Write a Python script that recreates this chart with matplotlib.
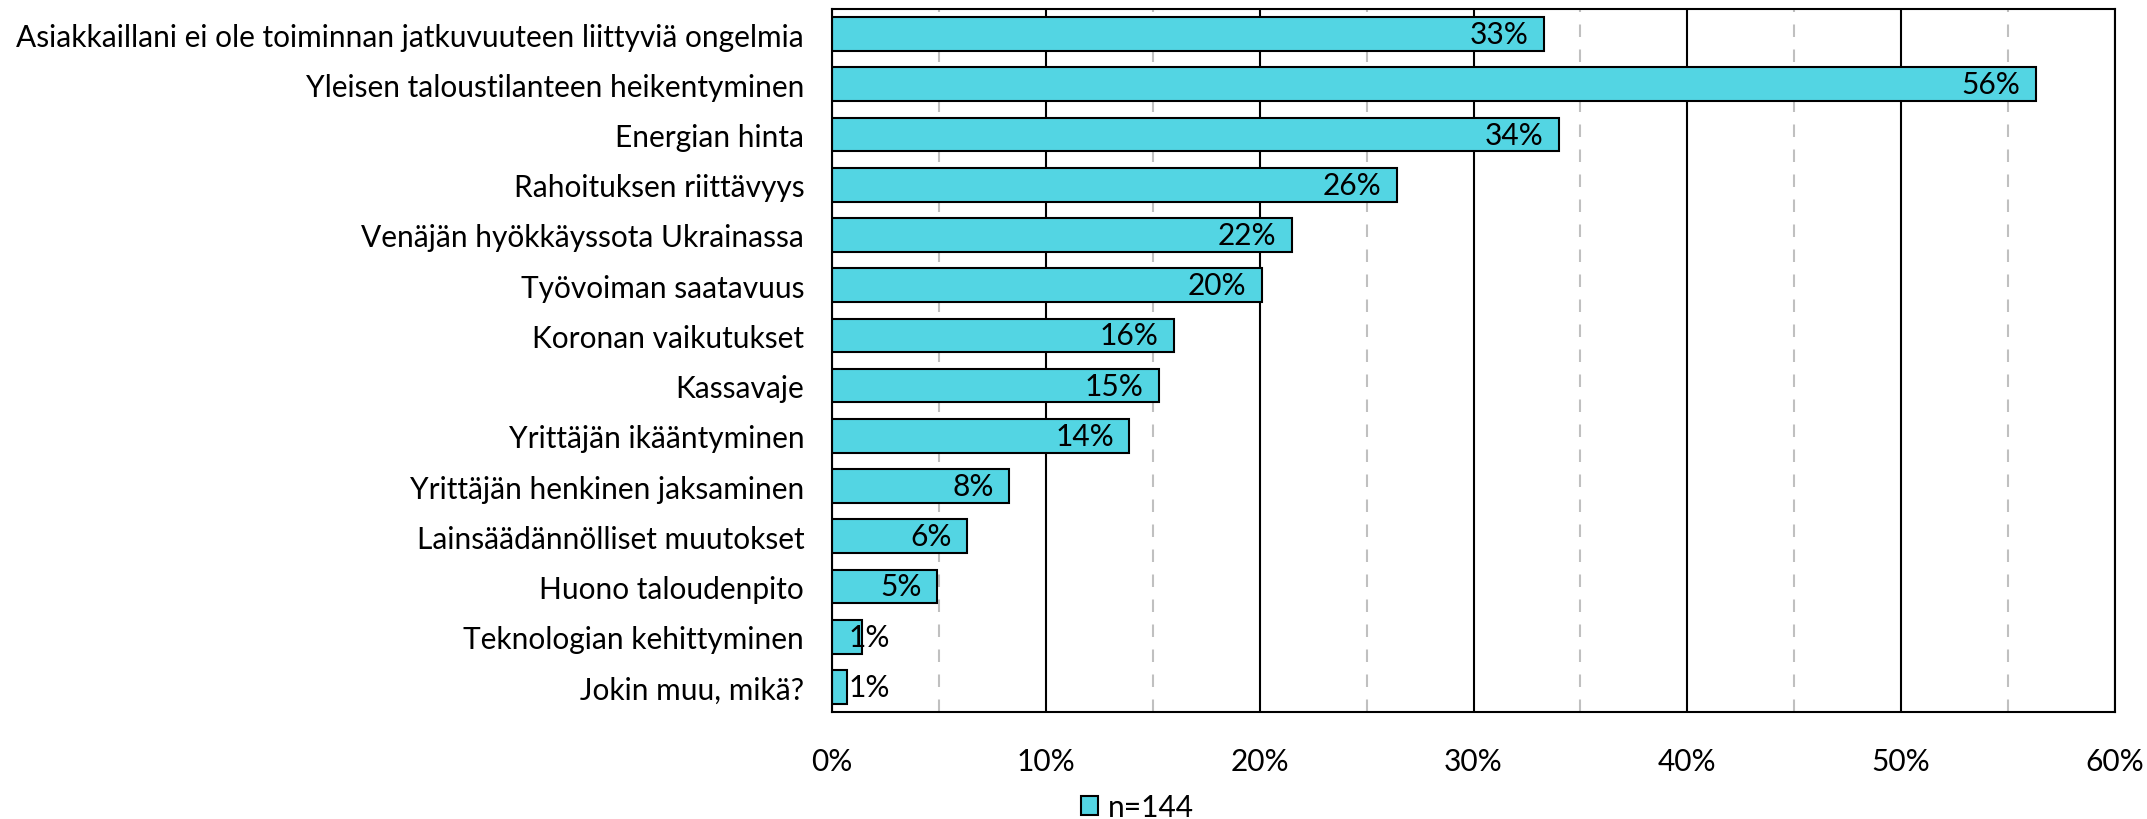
import matplotlib
matplotlib.use("Agg")
import matplotlib.pyplot as plt
from matplotlib.ticker import MultipleLocator, FuncFormatter
from matplotlib.patches import Patch

plt.rcParams['font.family'] = ['Lato', 'DejaVu Sans']

categories = [
    "Asiakkaillani ei ole toiminnan jatkuvuuteen liittyviä ongelmia",
    "Yleisen taloustilanteen heikentyminen",
    "Energian hinta",
    "Rahoituksen riittävyys",
    "Venäjän hyökkäyssota Ukrainassa",
    "Työvoiman saatavuus",
    "Koronan vaikutukset",
    "Kassavaje",
    "Yrittäjän ikääntyminen",
    "Yrittäjän henkinen jaksaminen",
    "Lainsäädännölliset muutokset",
    "Huono taloudenpito",
    "Teknologian kehittyminen",
    "Jokin muu, mikä?",
]
values = [33.3, 56.3, 34.0, 26.4, 21.5, 20.1, 16.0, 15.3, 13.9, 8.3, 6.3, 4.9, 1.4, 0.7]
value_labels = ["33%", "56%", "34%", "26%", "22%", "20%", "16%", "15%", "14%", "8%", "6%", "5%", "1%", "1%"]
legend_label = "n=144"

bar_color = "#53D5E3"
fs = 21.5

fig = plt.figure(figsize=(21.47, 8.2), dpi=100)
ax = fig.add_axes([832/2147, 1 - 713/820, (2115-832)/2147, (713-10)/820])

ypos = list(range(len(categories)))
ax.barh(ypos, values, height=0.67, color=bar_color, edgecolor="black", linewidth=1.5, zorder=3)

ax.set_xlim(0, 60)
ax.set_ylim(len(categories) - 0.5, -0.5)
ax.set_yticks(ypos)
ax.set_yticklabels(categories, fontsize=fs)
ax.xaxis.set_major_locator(MultipleLocator(10))
ax.xaxis.set_minor_locator(MultipleLocator(5))
ax.xaxis.set_major_formatter(FuncFormatter(lambda v, p: f"{int(round(v))}%"))
ax.tick_params(axis='x', which='both', length=0, labelsize=fs, pad=25)
ax.tick_params(axis='y', length=0, pad=20)

ax.grid(axis='x', which='major', color='black', linewidth=1.5, zorder=1)
ax.grid(axis='x', which='minor', color='#c0c0c0', linewidth=1.5, linestyle=(0, (6, 6)), zorder=1)
for s in ax.spines.values():
    s.set_color('black')
    s.set_linewidth(1.5)
    s.set_zorder(4)

for i, (v, lab) in enumerate(zip(values, value_labels)):
    if v < 3:
        ax.annotate(lab, xy=(0, i), xytext=(12, 0), textcoords='offset points',
                    ha='left', va='center', fontsize=fs, zorder=5)
    else:
        ax.annotate(lab, xy=(v, i), xytext=(-11, 0), textcoords='offset points',
                    ha='right', va='center', fontsize=fs, zorder=5)

handle = Patch(facecolor=bar_color, edgecolor='black', linewidth=1.5)
fig.legend([handle], [legend_label], loc='center', bbox_to_anchor=(1137/2147, 1 - 808/820),
           frameon=False, fontsize=fs, handlelength=0.6, handleheight=0.6, handletextpad=0.3)

fig.savefig("out.png", dpi=100)
